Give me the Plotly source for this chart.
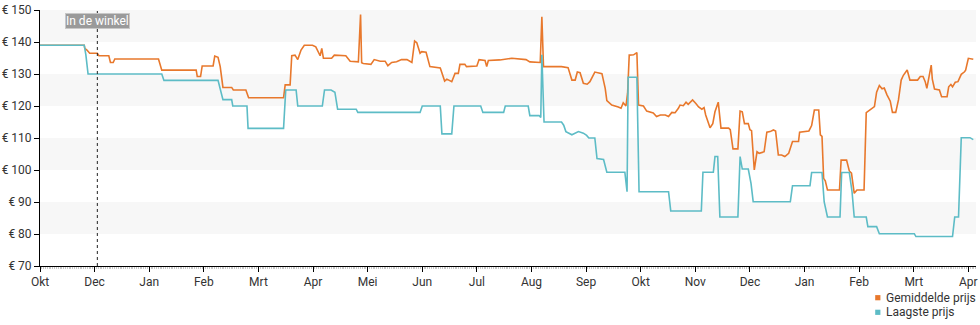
import plotly.graph_objects as go

# x in month units (0 = first "Okt" tick, 1 tick per month label)
tick_labels = ["Okt", "Dec", "Jan", "Feb", "Mrt", "Apr", "Mei", "Jun", "Jul",
               "Aug", "Sep", "Okt", "Nov", "Dec", "Jan", "Feb", "Mrt", "Apr"]
y_ticks = [70, 80, 90, 100, 110, 120, 130, 140, 150]
y_labels = ["€ %d" % v for v in y_ticks]
series_names = ["Gemiddelde prijs", "Laagste prijs"]

low_x = [0.00, 0.81, 0.84, 0.88, 2.23, 2.27, 3.26, 3.30, 3.35, 3.51, 3.53, 3.79, 3.81, 4.46,
         4.50, 4.69, 4.72, 5.17, 5.21, 5.33, 5.40, 5.45, 5.79, 5.82, 6.96, 7.00, 7.33, 7.36,
         7.54, 7.58, 8.07, 8.11, 8.49, 8.52, 8.94, 8.97, 9.14, 9.17, 9.19, 9.23, 9.55, 9.59,
         9.63, 9.74, 9.80, 9.86, 9.95, 10.01, 10.05, 10.16, 10.20, 10.32, 10.38, 10.71, 10.75,
         10.77, 10.93, 10.97, 11.51, 11.55, 12.11, 12.14, 12.33, 12.36, 12.41, 12.45, 12.78,
         12.82, 12.86, 12.97, 13.02, 13.06, 13.74, 13.78, 14.10, 14.13, 14.32, 14.36, 14.42,
         14.65, 14.68, 14.82, 14.87, 14.91, 15.13, 15.16, 15.32, 15.37, 16.01, 16.04, 16.71,
         16.75, 16.82, 16.87, 17.03, 17.09]
low_y = [139, 139, 136, 130, 130, 128, 128, 125, 122, 122, 120, 120, 113, 113,
         125, 125, 120, 120, 125, 125, 124.3, 119, 119, 118, 118, 120, 120, 111.3,
         111.3, 120, 120, 118, 118, 120, 120, 117, 117, 116.4, 136, 115, 115, 114,
         112, 111, 111.5, 112, 111.5, 110.8, 110, 110, 103.6, 103.3, 99.3, 99.3, 93.2,
         129, 129, 93.2, 93.2, 87.2, 87.2, 99.3, 99.3, 104.2, 104.2, 85.3, 85.3,
         104.2, 100.3, 100.3, 95.8, 90.1, 90.1, 95.1, 95.1, 99.2, 99.2, 90, 85.3,
         85.3, 99.2, 99.2, 93.2, 85.3, 85.3, 82.3, 82.3, 80.1, 80.1, 79.2, 79.2,
         85.3, 85.3, 110.1, 110.1, 109.5]

avg_x = [0.00, 0.81, 0.82, 0.86, 0.91, 1.05, 1.08, 1.26, 1.29, 1.34, 1.37, 2.17, 2.23, 2.86,
         2.88, 2.94, 2.97, 3.17, 3.20, 3.26, 3.30, 3.35, 3.51, 3.54, 3.77, 3.82, 4.46, 4.49,
         4.58, 4.61, 4.67, 4.72, 4.78, 4.84, 4.99, 5.05, 5.13, 5.16, 5.19, 5.34, 5.39, 5.60,
         5.68, 5.83, 5.87, 5.89, 5.92, 6.06, 6.12, 6.23, 6.32, 6.37, 6.44, 6.53, 6.62, 6.72,
         6.81, 6.86, 6.90, 6.96, 6.99, 7.07, 7.14, 7.33, 7.41, 7.45, 7.54, 7.60, 7.66, 7.69,
         7.78, 7.81, 8.00, 8.04, 8.15, 8.18, 8.21, 8.42, 8.64, 8.90, 8.97, 9.16, 9.19, 9.22,
         9.55, 9.67, 9.74, 9.80, 9.84, 9.89, 9.95, 10.02, 10.07, 10.16, 10.29, 10.35, 10.38,
         10.47, 10.59, 10.64, 10.68, 10.73, 10.76, 10.79, 10.87, 10.93, 10.96, 11.05, 11.11,
         11.23, 11.29, 11.36, 11.45, 11.51, 11.57, 11.63, 11.69, 11.72, 11.78, 11.83, 11.87,
         11.95, 12.01, 12.06, 12.12, 12.16, 12.19, 12.27, 12.32, 12.36, 12.42, 12.47, 12.61,
         12.64, 12.69, 12.78, 12.82, 12.86, 12.90, 12.97, 13.00, 13.03, 13.08, 13.13, 13.17,
         13.26, 13.31, 13.37, 13.43, 13.47, 13.52, 13.58, 13.64, 13.71, 13.78, 13.89, 13.91,
         13.98, 14.08, 14.13, 14.18, 14.26, 14.29, 14.32, 14.35, 14.38, 14.42, 14.64, 14.67,
         14.77, 14.82, 14.86, 14.91, 14.96, 15.09, 15.13, 15.17, 15.23, 15.28, 15.32, 15.37,
         15.42, 15.46, 15.51, 15.57, 15.61, 15.67, 15.72, 15.77, 15.81, 15.88, 15.93, 16.07,
         16.12, 16.17, 16.21, 16.24, 16.32, 16.34, 16.38, 16.47, 16.51, 16.61, 16.64, 16.68,
         16.71, 16.76, 16.81, 16.87, 16.93, 16.95, 17.00, 17.05, 17.09]
avg_y = [139, 139, 138, 137.5, 136.5, 136.5, 135.7, 135.7, 133.6, 133.6, 134.7, 134.7, 131.2, 131.2,
         129.2, 129.2, 132.5, 132.5, 135.6, 135.2, 132.3, 125.8, 125.8, 125, 125, 122.6, 122.6, 126.6,
         126.6, 135.7, 135.9, 134.5, 137.5, 139, 139, 138.5, 135.7, 138, 134.9, 134.9, 135.9, 135.7,
         134, 133.8, 148.6, 133.5, 133.3, 133, 134.5, 134, 134, 132.6, 133.6, 133.8, 134.5, 134.5,
         133.6, 140.3, 139.8, 136.5, 137, 136.8, 132.3, 131.9, 127.8, 128.4, 127.6, 130.2, 130.2, 133,
         133, 132.3, 132.5, 134.5, 134.2, 132.3, 134.2, 134.4, 134.9, 134.5, 133.8, 133.6, 147.9, 132.3,
         132.3, 132, 128.1, 128.1, 130.6, 130.4, 127.1, 126.8, 127.6, 130.6, 130.1, 125.5, 121.7,
         120.3, 119.7, 119.3, 121, 120, 124, 135.9, 136, 136.7, 120.3, 120, 118.4,
         117.8, 116.7, 117.2, 117.2, 116.7, 118, 117.9, 119.3, 120.3, 120.1, 121.2, 120.5,
         121.9, 120.8, 119.7, 119, 119.5, 117.2, 113.2, 114.5, 118.2, 121.2, 113.1, 113.1,
         112.6, 106.6, 106.6, 118.4, 118.2, 114.5, 114.5, 112.6, 112.3, 100, 105.7, 105.2,
         105.7, 111.8, 112, 112.5, 112.2, 104.7, 104.7, 104.2, 105.2, 108.9, 108.9, 111.8,
         112, 112.2, 113.9, 118.75, 118.75, 111, 110.5, 97.4, 96.6, 93.75, 93.75, 103.1,
         103.1, 99.7, 99, 92.7, 93.75, 93.75, 117.9, 118.4, 119.3, 119.8, 124.3, 126.4,
         125.4, 125.6, 123.5, 121.5, 118, 118, 121.9, 128.1, 129.6, 131.25, 128.1, 128.1,
         129.2, 129.2, 127.6, 125.5, 132.8, 128.4, 125.3, 125, 122.9, 122.9, 126, 126.7,
         126, 127.4, 127.6, 129.9, 130.7, 131.2, 134.9, 134.7, 134.6]

store_x = 1.05  # "In de winkel" marker
band_ranges = [(80, 90), (100, 110), (120, 130), (140, 150)]

ORANGE = "#e8782c"
TEAL = "#5dbcc6"
TXT = "#333333"
FONT = "Roboto"
W, H = 980, 325
ML, MR, MT, MB = 40, 4, 10, 59
PW, PH = W - ML - MR, H - MT - MB


def px_x(px):
    return (px - ML) / PW


def px_y(py):
    return (H - MB - py) / PH


fig = go.Figure()
fig.add_trace(go.Scatter(x=avg_x, y=avg_y, mode="lines", name=series_names[0],
                         line=dict(color=ORANGE, width=1.6), showlegend=False))
fig.add_trace(go.Scatter(x=low_x, y=low_y, mode="lines", name=series_names[1],
                         line=dict(color=TEAL, width=1.6), showlegend=False))

for lo, hi in band_ranges:
    fig.add_shape(type="rect", xref="paper", yref="y", x0=0, x1=1, y0=lo, y1=hi,
                  fillcolor="#f7f7f7", line_width=0, layer="below")

fig.add_shape(type="line", xref="x", yref="paper", x0=store_x, x1=store_x, y0=0, y1=1,
              line=dict(color="#222", width=1, dash="dot"))
fig.add_annotation(x=store_x, y=146.6, xref="x", yref="y", text="In de winkel",
                   showarrow=False, font=dict(color="white", size=12, family=FONT),
                   bgcolor="#9a9a9a", bordercolor="#c8c8c8", borderwidth=1, borderpad=0)

# legend (bottom right): coloured square + label
for name, col, cy in [(series_names[0], ORANGE, 297.7), (series_names[1], TEAL, 312.3)]:
    fig.add_shape(type="rect", xref="paper", yref="paper",
                  x0=px_x(875.2), x1=px_x(880.4), y0=px_y(cy + 2.6), y1=px_y(cy - 2.6),
                  fillcolor=col, line_width=0)
    fig.add_annotation(x=px_x(883.5), y=px_y(cy), xref="paper", yref="paper", text=name,
                       xanchor="left", yanchor="middle", showarrow=False,
                       font=dict(family=FONT, size=12, color=TXT))

fig.update_layout(
    width=W, height=H,
    margin=dict(l=ML, r=MR, t=MT, b=MB, autoexpand=False),
    paper_bgcolor="white", plot_bgcolor="white", showlegend=False,
    font=dict(family=FONT, size=12, color=TXT),
    xaxis=dict(range=[0, 17.14], tickmode="array", tickvals=list(range(len(tick_labels))),
               ticktext=tick_labels, showgrid=False, zeroline=False, showline=True,
               linecolor="black", linewidth=1, ticks="outside", ticklen=5, tickcolor="black",
               minor=dict(tickmode="linear", tick0=0, dtick=1 / 30, ticks="outside",
                          ticklen=2, tickcolor="#c8c8c8", showgrid=False)),
    yaxis=dict(range=[70, 150], tickmode="array", tickvals=y_ticks, ticktext=y_labels,
               showgrid=False, zeroline=False, showline=True, linecolor="black", linewidth=1,
               ticks="outside", ticklen=5, tickcolor="black"),
)

fig.write_html("out.html")
